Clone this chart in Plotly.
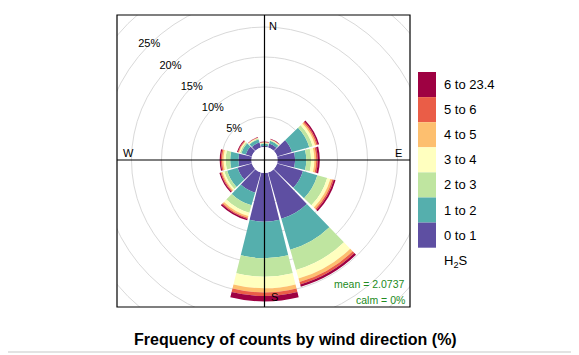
import math
import plotly.graph_objects as go

# ---------------- data ----------------
directions = [0, 30, 60, 90, 120, 150, 180, 210, 240, 270, 300, 330]
bin_labels = ["0 to 1", "1 to 2", "2 to 3", "3 to 4", "4 to 5", "5 to 6", "6 to 23.4"]
bin_colors = ["#5E4FA2", "#55AFAD", "#BFE5A0", "#FFFFBF", "#FDBF6F", "#EA5D47", "#9E0142"]

# frequency (%) of each concentration bin per wind direction sector
freq_0_1 = [0.20, 0.70, 2.60, 2.95, 4.50, 8.00, 8.10, 3.50, 2.50, 2.20, 1.10, 0.85]
freq_1_2 = [0.35, 0.45, 3.00, 1.85, 2.50, 5.40, 6.10, 2.20, 1.80, 1.35, 0.75, 0.55]
freq_2_3 = [0.12, 0.10, 0.60, 0.80, 1.70, 3.50, 3.10, 1.30, 0.50, 0.75, 0.25, 0.15]
freq_3_4 = [0.05, 0.08, 0.40, 0.55, 0.55, 1.50, 1.90, 0.55, 0.30, 0.35, 0.15, 0.08]
freq_4_5 = [0.06, 0.07, 0.25, 0.30, 0.35, 0.60, 0.70, 0.30, 0.20, 0.25, 0.10, 0.07]
freq_5_6 = [0.05, 0.05, 0.20, 0.25, 0.25, 0.40, 0.60, 0.20, 0.15, 0.20, 0.10, 0.05]
freq_6_23 = [0.09, 0.05, 0.25, 0.35, 0.30, 0.40, 0.90, 0.25, 0.20, 0.20, 0.15, 0.05]
bin_freqs = [freq_0_1, freq_1_2, freq_2_3, freq_3_4, freq_4_5, freq_5_6, freq_6_23]

grid_levels = [5, 10, 15, 20, 25, 30]
grid_label_levels = [5, 10, 15, 20, 25]
compass = ["N", "E", "S", "W"]
mean_value = "2.0737"
calm_value = "0%"
pollutant = "H<sub>2</sub>S"
title_text = "Frequency of counts by wind direction (%)"

# ---------------- geometry (reference pixel frame) ----------------
SHIFT = 8                      # page body margin of the browser
W, H = 579, 355
ML, MR, MT, MB = 117, 169, 15, 48
PW, PH = W - ML - MR, H - MT - MB
CX, CY = 264.5, 160.0          # rose centre (px)
PX_PER = 6.0                   # px per percent
OFF_PX = 13.0                  # hole radius (px)
RPX = 145.0                    # polar radius (px)
OFF = OFF_PX / PX_PER          # hole in data units
FONT = "Liberation Sans, Arial, sans-serif"


def pxx(px):
    return (px - ML) / PW


def pxy(py):
    return (MT + PH - py) / PH


fig = go.Figure()

# stacked wind-rose bars
for lab, col, vals in zip(bin_labels, bin_colors, bin_freqs):
    fig.add_trace(go.Barpolar(
        r=vals, theta=directions, width=[28] * len(directions),
        marker=dict(color=col, line=dict(width=0)),
        name=lab, showlegend=False, hoverinfo="skip",
    ))

# percentage labels on the grid circles (cartesian overlay)
lx = [-(OFF + v) * math.sin(math.radians(45)) for v in grid_label_levels]
ly = [(OFF + v) * math.cos(math.radians(45)) for v in grid_label_levels]
fig.add_trace(go.Scatter(
    x=lx, y=ly, mode="text", text=[f"{v}%" for v in grid_label_levels],
    textfont=dict(family=FONT, size=11, color="#000000"),
    showlegend=False, hoverinfo="skip",
))

xr = [(ML - CX) / PX_PER, (ML + PW - CX) / PX_PER]
yr = [(CY - (MT + PH)) / PX_PER, (CY - MT) / PX_PER]

shapes = []
for v in grid_levels:
    rr = OFF + v
    shapes.append(dict(type="circle", xref="x", yref="y", x0=-rr, x1=rr, y0=-rr, y1=rr,
                       line=dict(color="#D9D9D9", width=1), layer="below"))
# cross lines
shapes.append(dict(type="line", xref="x", yref="y", x0=xr[0], x1=xr[1], y0=0, y1=0,
                   line=dict(color="black", width=1.2), layer="above"))
shapes.append(dict(type="line", xref="x", yref="y", x0=0, x1=0, y0=yr[0], y1=yr[1],
                   line=dict(color="black", width=1.2), layer="above"))
# panel box
shapes.append(dict(type="rect", xref="paper", yref="paper", x0=0, x1=1, y0=0, y1=1,
                   line=dict(color="black", width=1.2), layer="above"))
# bottom grey rule
shapes.append(dict(type="line", xref="paper", yref="paper", x0=pxx(0), x1=pxx(W),
                   y0=pxy(352), y1=pxy(352), line=dict(color="#E3E3E3", width=2)))

annotations = []
# compass labels
compass_pos = {"N": (272.5, 25.5), "E": (398.5, 152.5), "S": (274.5, 296.5), "W": (128.5, 152.5)}
for c in compass:
    px, py = compass_pos[c]
    annotations.append(dict(text=c, xref="x", yref="y", x=(px - CX) / PX_PER, y=(CY - py) / PX_PER,
                            showarrow=False, font=dict(family=FONT, size=11, color="black"),
                            xanchor="center", yanchor="middle"))
# mean / calm
annotations.append(dict(text=f"mean = {mean_value}", xref="paper", yref="paper", x=pxx(406.5), y=pxy(283.5),
                        showarrow=False, xanchor="right", yanchor="middle",
                        font=dict(family=FONT, size=10.5, color="#228B22")))
annotations.append(dict(text=f"calm = {calm_value}", xref="paper", yref="paper", x=pxx(406.5), y=pxy(299.5),
                        showarrow=False, xanchor="right", yanchor="middle",
                        font=dict(family=FONT, size=10.5, color="#228B22")))

# legend (colour key)
box_top, box_h = 72.0, 25.1
for i, (lab, col) in enumerate(reversed(list(zip(bin_labels, bin_colors)))):
    y0 = box_top + i * box_h
    shapes.append(dict(type="rect", xref="paper", yref="paper", x0=pxx(418), x1=pxx(436),
                       y0=pxy(y0 + box_h), y1=pxy(y0), fillcolor=col, line=dict(width=0)))
    annotations.append(dict(text=lab, xref="paper", yref="paper", x=pxx(442), y=pxy(y0 + box_h / 2),
                            showarrow=False, xanchor="left", yanchor="middle",
                            font=dict(family=FONT, size=13, color="black")))
annotations.append(dict(text=pollutant, xref="paper", yref="paper", x=pxx(442), y=pxy(262),
                        showarrow=False, xanchor="left", yanchor="middle",
                        font=dict(family=FONT, size=13, color="black")))
# title
annotations.append(dict(text=f"<b>{title_text}</b>", xref="paper", yref="paper", x=pxx(295.5), y=pxy(339),
                        showarrow=False, xanchor="center", yanchor="middle",
                        font=dict(family=FONT, size=16, color="black")))

fig.update_layout(
    width=W - SHIFT, height=H - SHIFT,
    margin=dict(l=ML - SHIFT, r=MR, t=MT - SHIFT, b=MB, pad=0),
    paper_bgcolor="white", plot_bgcolor="rgba(0,0,0,0)",
    xaxis=dict(range=xr, visible=False, fixedrange=True),
    yaxis=dict(range=yr, visible=False, fixedrange=True),
    polar=dict(
        domain=dict(x=[(CX - RPX - ML) / PW, (CX + RPX - ML) / PW],
                    y=[(MT + PH - CY - RPX) / PH, (MT + PH - CY + RPX) / PH]),
        hole=OFF_PX / RPX,
        bgcolor="rgba(0,0,0,0)",
        barmode="stack",
        radialaxis=dict(range=[0, (RPX - OFF_PX) / PX_PER], visible=False),
        angularaxis=dict(direction="clockwise", rotation=90, visible=False),
    ),
    shapes=shapes, annotations=annotations, showlegend=False,
)

fig.write_html("out.html")
